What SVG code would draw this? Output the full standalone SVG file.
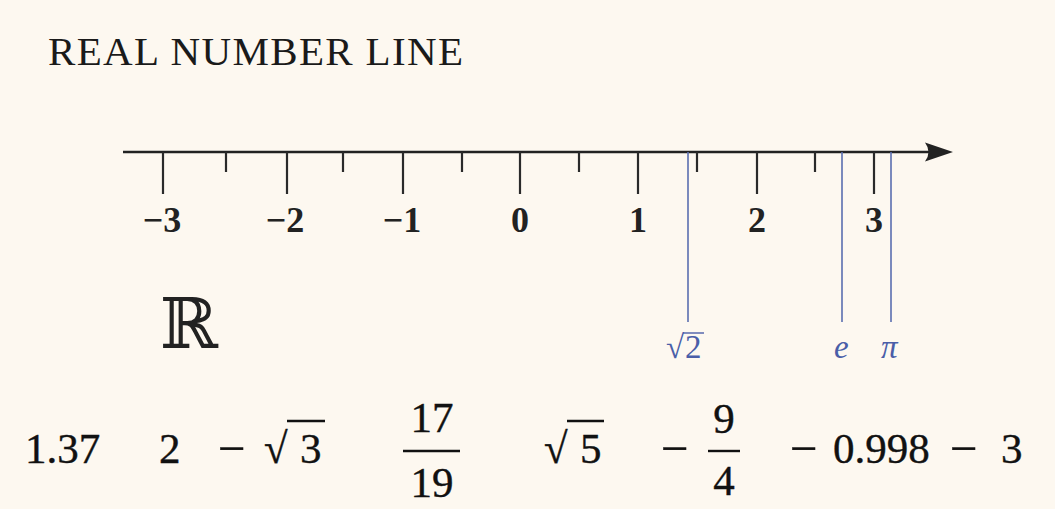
<svg xmlns="http://www.w3.org/2000/svg" width="1055" height="509" viewBox="0 0 1055 509">
<style>
.title{font-family:"Liberation Serif",serif;font-size:41px;fill:#1a1a1a}
.tick{stroke:#2a2a2a;stroke-width:2.2}
.lab{font-family:"Liberation Serif",serif;font-size:36px;font-weight:bold;fill:#222;text-anchor:middle}
.blue{stroke:#5a6eb0;stroke-width:1.6}
.bl{font-family:"Liberation Serif",serif;font-size:33px;fill:#4a5ea8}
.num{font-family:"Liberation Serif",serif;font-size:43px;fill:#111;stroke:#111;stroke-width:0.4}
.mn{font-family:"Liberation Serif",serif;font-size:49px;fill:#111;stroke:#111;stroke-width:0.3}
.bar{stroke:#111;stroke-width:2.4}
</style>
<rect width="1055" height="509" fill="#fdf8f0"/>
<g id="title"><text class="title" x="48" y="65" textLength="415">REAL NUMBER LINE</text></g>
<g id="axis">
<line x1="123" y1="152" x2="935" y2="152" stroke="#222" stroke-width="2.4"/>
<path d="M953,152 L925,142.5 Q932,152 925,161.5 Z" fill="#222"/>
</g>
<g id="ticks">
<line class="tick" x1="163" y1="152" x2="163" y2="194"/>
<line class="tick" x1="287" y1="152" x2="287" y2="194"/>
<line class="tick" x1="403" y1="152" x2="403" y2="194"/>
<line class="tick" x1="520" y1="152" x2="520" y2="194"/>
<line class="tick" x1="638" y1="152" x2="638" y2="194"/>
<line class="tick" x1="757" y1="152" x2="757" y2="194"/>
<line class="tick" x1="874" y1="152" x2="874" y2="194"/>
<line class="tick" x1="226" y1="152" x2="226" y2="172"/>
<line class="tick" x1="343" y1="152" x2="343" y2="172"/>
<line class="tick" x1="462" y1="152" x2="462" y2="172"/>
<line class="tick" x1="579" y1="152" x2="579" y2="172"/>
<line class="tick" x1="697" y1="152" x2="697" y2="172"/>
<line class="tick" x1="815" y1="152" x2="815" y2="172"/>
</g>
<g id="tick-labels">
<text class="lab" x="162" y="232">−3</text>
<text class="lab" x="285" y="232">−2</text>
<text class="lab" x="402" y="232">−1</text>
<text class="lab" x="520" y="232">0</text>
<text class="lab" x="638" y="232">1</text>
<text class="lab" x="757" y="232">2</text>
<text class="lab" x="874" y="232">3</text>
</g>
<g id="irrationals">
<line class="blue" x1="688" y1="152" x2="688" y2="322"/>
<line class="blue" x1="842" y1="152" x2="842" y2="322"/>
<line class="blue" x1="891" y1="152" x2="891" y2="322"/>
<text class="bl" x="666" y="358">√</text>
<line x1="683" y1="333" x2="704" y2="333" stroke="#4a5ea8" stroke-width="1.4"/>
<text class="bl" x="685" y="358">2</text>
<text class="bl" x="834" y="358" font-style="italic">e</text>
<text class="bl" x="881" y="358" font-style="italic">π</text>
</g>
<g id="reals-symbol"><text x="160" y="348" font-family="DejaVu Serif,serif" font-size="70" fill="#222">ℝ</text></g>
<g id="numbers">
<text class="num" x="25" y="463">1.37</text>
<text class="num" x="159" y="463">2</text>
<text class="mn" x="218" y="465">−</text>
<text class="num" x="264" y="463">√</text>
<line class="bar" x1="287" y1="421" x2="325" y2="421"/>
<text class="num" x="300" y="463">3</text>
<text class="num" x="432" y="432" text-anchor="middle">17</text>
<line class="bar" x1="403" y1="451" x2="460" y2="451"/>
<text class="num" x="432" y="497" text-anchor="middle">19</text>
<text class="num" x="544" y="463">√</text>
<line class="bar" x1="567" y1="421" x2="604" y2="421"/>
<text class="num" x="580" y="463">5</text>
<text class="mn" x="661" y="465">−</text>
<text class="num" x="724" y="433" text-anchor="middle">9</text>
<line class="bar" x1="708" y1="451" x2="740" y2="451"/>
<text class="num" x="724" y="495" text-anchor="middle">4</text>
<text class="mn" x="790" y="465">−</text>
<text class="num" x="833" y="463">0.998</text>
<text class="mn" x="950" y="465">−</text>
<text class="num" x="1001" y="463">3</text>
</g>
</svg>
